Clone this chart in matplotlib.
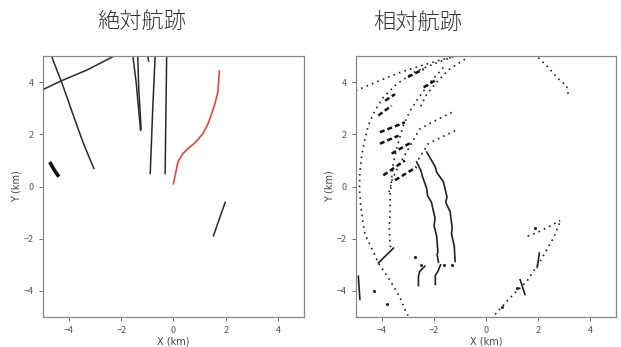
import matplotlib
matplotlib.use('Agg')
import matplotlib.pyplot as plt

plt.rcParams['font.family'] = ['Noto Sans CJK JP', 'DejaVu Sans']

# Absolute tracks (km), left panel
abs_tracks = {
    'a1': [(-4.69, 5.04), (-4.25, 3.90), (-3.80, 2.62), (-3.45, 1.65), (-3.05, 0.69)],
    'a2': [(-4.97, 3.73), (-4.30, 4.05), (-3.28, 4.48), (-2.20, 5.04)],
    'a3': [(-1.56, 5.04), (-1.43, 3.99), (-1.26, 2.15)],
    'a4': [(-1.37, 5.04), (-1.33, 3.73), (-1.24, 2.21)],
    'a5': [(-0.98, 4.94), (-0.95, 4.81)],
    'a6': [(-0.70, 5.04), (-0.79, 3.10), (-0.89, 0.50)],
    'a7': [(-0.26, 5.04), (-0.29, 2.84), (-0.32, 0.50)],
    'a8': [(1.98, -0.61), (1.53, -1.89)],
}
abs_short = [(-4.71, 0.88), (-4.56, 0.62), (-4.43, 0.43)]
own_track = [(0.0, 0.11), (0.08, 0.50), (0.17, 0.94), (0.35, 1.25), (0.55, 1.45),
             (0.85, 1.70), (1.12, 2.02), (1.30, 2.35), (1.44, 2.72), (1.58, 3.15),
             (1.70, 3.61), (1.76, 4.43)]

# Relative tracks (km), right panel - dotted arcs
rel_dotted = {
    'top': [(-5.01, 3.67), (-4.21, 4.01), (-3.31, 4.37), (-2.54, 4.62), (-1.64, 4.88), (-1.0, 5.03)],
    'outer': [(-1.26, 4.98), (-2.03, 4.69), (-2.79, 4.37), (-3.44, 3.92), (-3.95, 3.42),
              (-4.27, 2.91), (-4.53, 2.34), (-4.65, 1.83), (-4.78, 1.19), (-4.85, 0.56),
              (-4.87, -0.08), (-4.82, -0.71), (-4.74, -1.35), (-4.65, -1.85), (-4.40, -2.36),
              (-4.14, -2.93), (-3.63, -3.70), (-3.31, -4.25), (-3.12, -4.71), (-3.0, -4.95)],
    'inner': [(-1.64, 4.56), (-2.15, 3.99), (-2.54, 3.48), (-2.92, 2.91), (-3.18, 2.34),
              (-3.37, 1.70), (-3.56, 0.94), (-3.63, 0.30), (-3.69, -0.33), (-3.69, -0.97),
              (-3.72, -1.60), (-3.69, -2.24), (-3.63, -2.49)],
    'mid': [(-0.81, 4.88), (-1.4, 4.5), (-1.9, 4.0), (-2.3, 3.5), (-2.55, 3.0)],
    'diag1': [(-1.32, 2.84), (-1.9, 2.55), (-2.54, 2.21), (-2.9, 1.6), (-3.3, 0.9),
              (-3.6, 0.3), (-3.75, -0.3)],
    'diag2': [(-1.19, 2.14), (-1.7, 1.9), (-2.22, 1.64), (-2.5, 1.2), (-2.67, 0.94)],
    'ur': [(2.01, 4.94), (2.40, 4.56), (2.72, 4.18), (3.10, 3.86), (3.17, 3.48)],
    'lr': [(0.35, -4.90), (0.92, -4.27), (1.57, -3.63), (2.08, -2.87), (2.59, -1.98), (2.85, -1.35)],
    'lr2': [(1.6, -1.9), (2.0, -1.75), (2.4, -1.55), (2.85, -1.3)],
}

# Relative tracks - solid / jagged segments
rel_solid = {
    'j1': [(-2.67, 0.94), (-2.50, 0.60), (-2.45, 0.40), (-2.28, -0.08), (-2.25, -0.35),
           (-2.10, -0.6), (-1.96, -1.22), (-2.0, -1.5), (-1.90, -1.9), (-1.85, -2.5),
           (-1.88, -2.6), (-1.83, -2.9)],
    'j2': [(-2.28, 1.32), (-1.95, 0.75), (-1.90, 0.55), (-1.64, 0.18), (-1.50, -0.4),
           (-1.55, -0.6), (-1.38, -0.97), (-1.30, -1.6), (-1.33, -1.8), (-1.22, -2.3),
           (-1.19, -2.87)],
    'h1': [(-2.35, -3.05), (-2.55, -3.25), (-2.6, -3.45), (-2.6, -3.8)],
    'h2': [(-1.75, -3.0), (-1.85, -3.25), (-1.95, -3.4), (-1.95, -3.75)],
    'edge': [(-4.91, -3.44), (-4.88, -3.9), (-4.85, -4.33)],
    'lrd': [(2.05, -2.55), (1.97, -3.1)],
    'lrd2': [(1.31, -3.57), (1.5, -4.14)],
    'bot': [(-4.14, -2.93), (-3.56, -2.36)],
}
rel_dashes = [
    [(-3.88, 3.29), (-3.50, 3.54)],
    [(-4.14, 2.72), (-3.63, 3.10)],
    [(-4.08, 2.08), (-3.12, 2.46)],
    [(-4.08, 1.64), (-3.37, 1.95)],
    [(-3.63, 1.26), (-2.86, 1.70)],
    [(-3.95, 0.43), (-3.12, 1.00)],
    [(-3.50, 0.24), (-2.67, 0.75)],
    [(-3.0, 4.2), (-2.4, 4.5)],
    [(-2.4, 3.8), (-1.9, 4.1)],
]
rel_points = [(-2.75, -2.7), (-2.5, -3.0), (-1.6, -3.0), (-1.3, -3.0),
              (-4.3, -4.0), (-3.8, -4.5), (0.6, -4.6), (1.2, -3.9), (1.9, -1.6)]

ticks = [-4, -2, 0, 2, 4]

fig = plt.figure(figsize=(6.21, 3.47), dpi=100)
ax1 = fig.add_axes([0.0692, 0.0865, 0.4203, 0.752])
ax2 = fig.add_axes([0.5733, 0.0865, 0.4187, 0.752])

for name, pts in abs_tracks.items():
    xs, ys = zip(*pts)
    ax1.plot(xs, ys, color='#2a2a2a', lw=1.1)
xs, ys = zip(*abs_short)
ax1.plot(xs, ys, color='#111111', lw=2.6)
xs, ys = zip(*own_track)
ax1.plot(xs, ys, color='#e8453c', lw=1.2)

for name, pts in rel_dotted.items():
    xs, ys = zip(*pts)
    ax2.plot(xs, ys, color='#222222', lw=1.2, ls=(0, (1, 2.5)))
for name, pts in rel_solid.items():
    xs, ys = zip(*pts)
    ax2.plot(xs, ys, color='#222222', lw=1.2)
for pts in rel_dashes:
    xs, ys = zip(*pts)
    ax2.plot(xs, ys, color='#111111', lw=1.8, ls=(0, (2, 1.2)))
xs, ys = zip(*rel_points)
ax2.plot(xs, ys, ls='none', marker='.', ms=2.5, color='#222222')

for ax in (ax1, ax2):
    ax.set_xlim(-5, 5)
    ax.set_ylim(-5, 5)
    ax.set_xticks(ticks)
    ax.set_yticks(ticks)
    ax.tick_params(labelsize=6.5, colors='#555555', length=3, width=0.6)
    for s in ax.spines.values():
        s.set_color('#888888')
        s.set_linewidth(0.9)
    ax.set_xlabel('X (km)', fontsize=7, color='#444444', family='DejaVu Sans', labelpad=1)
    ax.set_ylabel('Y (km)', fontsize=7, color='#444444', family='DejaVu Sans', labelpad=2)

fig.text(0.229, 0.935, '絶対航跡', ha='center', va='center', fontsize=16,
         color='#333333', fontweight='light')
fig.text(0.672, 0.935, '相対航跡', ha='center', va='center', fontsize=16,
         color='#333333', fontweight='light')

fig.savefig('out.png', dpi=100)
